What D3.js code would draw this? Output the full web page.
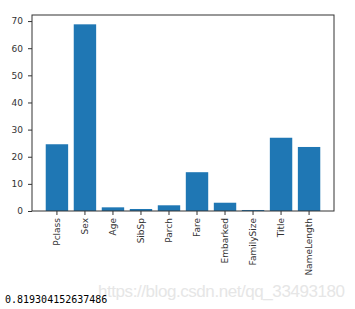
<!DOCTYPE html>
<html lang="en">
  <head>
    <meta charset="UTF-8" />
    <title>Feature scores</title>
    <script src="https://cdn.jsdelivr.net/npm/d3@7"></script>
    <style>
      body { margin: 0; background: #fff; }
    </style>
  </head>
  <body>
    <div id="container"></div>
    <script>
      // data
      const features = ['Pclass', 'Sex', 'Age', 'SibSp', 'Parch', 'Fare', 'Embarked', 'FamilySize', 'Title', 'NameLength']
      const scores = [24.6, 68.8, 1.35, 0.74, 2.1, 14.3, 3.05, 0.37, 27.0, 23.6]
      const yTicks = [0, 10, 20, 30, 40, 50, 60, 70]
      const printedScore = '0.819304152637486'
      const watermark = 'https://blog.csdn.net/qq_33493180'

      const width = 355
      const height = 309
      const marginTop = 15
      const marginRight = 21
      const marginBottom = 98
      const marginLeft = 32

      const svg = d3.create('svg')
        .attr('width', width)
        .attr('height', height)
        .attr('viewBox', [0, 0, width, height])

      // matplotlib-like x limits: 0.8 wide bars, 5% margins
      const xScale = d3.scaleBand()
        .domain(features)
        .range([marginLeft, width - marginRight])
        .paddingInner(0.2)
        .paddingOuter(0.49)

      const yScale = d3.scaleLinear()
        .domain([0, d3.max(scores) * 1.05])
        .range([height - marginBottom, marginTop])

      // bars
      svg.append('g')
        .attr('fill', '#1f77b4')
        .selectAll()
        .data(features)
        .join('rect')
        .attr('x', d => xScale(d))
        .attr('y', (d, i) => yScale(scores[i]))
        .attr('width', xScale.bandwidth())
        .attr('height', (d, i) => yScale(0) - yScale(scores[i]))

      // frame
      svg.append('rect')
        .attr('x', marginLeft)
        .attr('y', marginTop)
        .attr('width', width - marginRight - marginLeft)
        .attr('height', height - marginBottom - marginTop)
        .attr('fill', 'none')
        .attr('stroke', '#333')
        .attr('stroke-width', 1)

      // x axis
      const xAxis = svg.append('g')
        .attr('transform', `translate(0, ${height - marginBottom})`)
        .call(d3.axisBottom(xScale).tickSize(4).tickPadding(3).tickSizeOuter(0))
      xAxis.select('.domain').remove()
      xAxis.selectAll('line').attr('stroke', '#333')
      xAxis.selectAll('text')
        .attr('transform', 'rotate(-90)')
        .attr('x', -7)
        .attr('y', 0)
        .attr('dy', '0.35em')
        .attr('text-anchor', 'end')
        .attr('fill', '#333')
        .style('font', '9px "DejaVu Sans"')

      // y axis
      const yAxis = svg.append('g')
        .attr('transform', `translate(${marginLeft}, 0)`)
        .call(d3.axisLeft(yScale).tickValues(yTicks).tickSize(4).tickPadding(5).tickSizeOuter(0))
      yAxis.select('.domain').remove()
      yAxis.selectAll('line').attr('stroke', '#333')
      yAxis.selectAll('text')
        .attr('fill', '#333')
        .style('font', '9px "DejaVu Sans"')

      // watermark
      svg.append('text')
        .attr('x', 98)
        .attr('y', 297)
        .attr('textLength', 247)
        .attr('fill', '#e6e6e6')
        .style('font', '17px "Liberation Sans"')
        .text(watermark)

      // printed accuracy
      svg.append('text')
        .attr('x', 5)
        .attr('y', 303)
        .attr('fill', '#000')
        .style('font', '10px "DejaVu Sans Mono"')
        .text(printedScore)

      container.append(svg.node())
    </script>
  </body>
</html>
